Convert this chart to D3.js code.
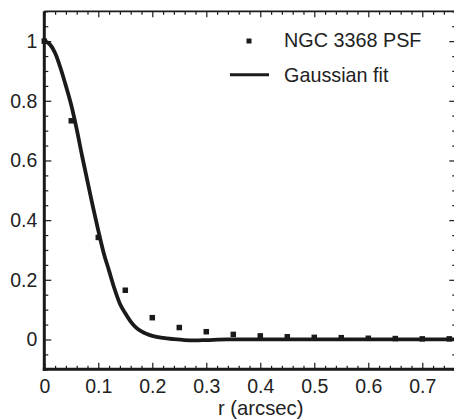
<!DOCTYPE html>
<html>
<head>
<meta charset="utf-8">
<script src="https://cdn.jsdelivr.net/npm/d3@7"></script>
<style>
  html, body { margin: 0; padding: 0; background: #ffffff; }
  svg { display: block; }
  text { font-family: "Liberation Sans", Arial, Helvetica, sans-serif; fill: #222; }
</style>
</head>
<body>
<svg id="chart" width="454" height="420"></svg>
<script>
// ---- data ----
const psfR = [0, 0.05, 0.10, 0.15, 0.20, 0.25, 0.30, 0.35, 0.40, 0.45, 0.50, 0.55, 0.60, 0.65, 0.70, 0.75];
const psfV = [1.0, 0.733, 0.342, 0.165, 0.073, 0.040, 0.026, 0.017, 0.012, 0.009, 0.007, 0.006, 0.004, 0.003, 0.002, 0.002];

const fitR = [0, 0.01, 0.02, 0.03, 0.04, 0.05, 0.06, 0.07, 0.08, 0.09, 0.10, 0.11, 0.12, 0.13, 0.14, 0.15, 0.16, 0.17, 0.18, 0.19, 0.20, 0.22, 0.24, 0.26, 0.28, 0.30, 0.34, 0.40, 0.50, 0.60, 0.70, 0.763];
const fitV = [1.0, 0.99, 0.96, 0.91, 0.85, 0.785, 0.705, 0.615, 0.53, 0.445, 0.365, 0.29, 0.23, 0.17, 0.12, 0.088, 0.06, 0.04, 0.027, 0.018, 0.012, 0.005, 0.001, -0.002, -0.003, -0.002, 0, 0, 0, 0, 0, 0];

const xTicks = [0, 0.1, 0.2, 0.3, 0.4, 0.5, 0.6, 0.7];
const xTickLabels = ["0", "0.1", "0.2", "0.3", "0.4", "0.5", "0.6", "0.7"];
const yTicks = [0, 0.2, 0.4, 0.6, 0.8, 1];
const yTickLabels = ["0", "0.2", "0.4", "0.6", "0.8", "1"];
const xMinor = d3.range(0, 39).map(i => i * 0.02).filter(v => Math.abs(v * 10 - Math.round(v * 10)) > 1e-6);
const yMinor = d3.range(-2, 23).map(i => i * 0.05).filter(v => Math.abs(v * 5 - Math.round(v * 5)) > 1e-6);

const legendLabels = ["NGC 3368 PSF", "Gaussian fit"];
const xLabel = "r (arcsec)";

// ---- layout ----
const svg = d3.select("#chart");
const xMax = 0.763;
const x = d3.scaleLinear().domain([0, xMax]).range([44.3, 456.3]);
const y = d3.scaleLinear().domain([-0.1, 1.1]).range([369.3, 11.3]);
const ink = "#1a1a1a";

const g = svg.append("g");

function styleAxis(sel) {
  sel.select(".domain").remove();
  sel.selectAll(".tick line").attr("stroke", ink).attr("stroke-width", 1.2);
  sel.selectAll(".tick text").style("font-size", "19.5px").attr("fill", "#222");
}

// bottom axis
g.append("g").attr("transform", `translate(0,${y(-0.1)})`)
  .call(d3.axisBottom(x).tickValues(xMinor).tickSize(-3.5).tickFormat(""))
  .call(styleAxis);
g.append("g").attr("transform", `translate(0,${y(-0.1)})`)
  .call(d3.axisBottom(x).tickValues(xTicks).tickSize(-6.5).tickPadding(10)
        .tickFormat((d, i) => xTickLabels[i]))
  .call(styleAxis);

// top axis
g.append("g").attr("transform", `translate(0,${y(1.1)})`)
  .call(d3.axisTop(x).tickValues(xMinor).tickSize(-3.5).tickFormat(""))
  .call(styleAxis);
g.append("g").attr("transform", `translate(0,${y(1.1)})`)
  .call(d3.axisTop(x).tickValues(xTicks).tickSize(-6).tickFormat(""))
  .call(styleAxis);

// left axis
g.append("g").attr("transform", `translate(${x(0)},0)`)
  .call(d3.axisLeft(y).tickValues(yMinor).tickSize(-4).tickFormat(""))
  .call(styleAxis);
g.append("g").attr("transform", `translate(${x(0)},0)`)
  .call(d3.axisLeft(y).tickValues(yTicks).tickSize(-7).tickPadding(7)
        .tickFormat((d, i) => yTickLabels[i]))
  .call(styleAxis);

// right axis
g.append("g").attr("transform", `translate(${x(xMax)},0)`)
  .call(d3.axisRight(y).tickValues(yMinor).tickSize(-4).tickFormat(""))
  .call(styleAxis);
g.append("g").attr("transform", `translate(${x(xMax)},0)`)
  .call(d3.axisRight(y).tickValues(yTicks).tickSize(-7).tickFormat(""))
  .call(styleAxis);

// spines
g.append("line").attr("x1", x(0)).attr("x2", x(xMax)).attr("y1", y(1.1)).attr("y2", y(1.1))
  .attr("stroke", ink).attr("stroke-width", 1.8);
g.append("line").attr("x1", x(xMax)).attr("x2", x(xMax)).attr("y1", y(1.1)).attr("y2", y(-0.1))
  .attr("stroke", ink).attr("stroke-width", 1.8);
g.append("line").attr("x1", x(0) - 1.5).attr("x2", x(xMax)).attr("y1", y(-0.1)).attr("y2", y(-0.1))
  .attr("stroke", ink).attr("stroke-width", 3);
g.append("line").attr("x1", x(0)).attr("x2", x(0)).attr("y1", y(1.1)).attr("y2", y(-0.1) + 1.5)
  .attr("stroke", ink).attr("stroke-width", 3);

// fit line
const fitData = fitR.map((r, i) => [r, fitV[i]]);
const line = d3.line().x(d => x(d[0])).y(d => y(d[1])).curve(d3.curveMonotoneX);
g.append("path").datum(fitData).attr("d", line)
  .attr("fill", "none").attr("stroke", ink).attr("stroke-width", 3.8)
  .attr("stroke-linejoin", "round");

// PSF points
const sq = 5.5;
g.selectAll("rect.psf").data(psfR.map((r, i) => [r, psfV[i]])).enter()
  .append("rect").attr("class", "psf")
  .attr("x", d => x(d[0]) - sq / 2).attr("y", d => y(d[1]) - sq / 2)
  .attr("width", sq).attr("height", sq).attr("fill", ink);

// legend
const lg = svg.append("g");
lg.append("rect").attr("x", 249 - 2.5).attr("y", 41 - 2.5).attr("width", 5).attr("height", 5).attr("fill", ink);
lg.append("text").attr("x", 284).attr("y", 46.7).style("font-size", "19.8px").text(legendLabels[0]);
lg.append("line").attr("x1", 230).attr("x2", 269).attr("y1", 74.7).attr("y2", 74.7)
  .attr("stroke", ink).attr("stroke-width", 3);
lg.append("text").attr("x", 284).attr("y", 81.5).style("font-size", "19.8px").text(legendLabels[1]);

// x label
svg.append("text").attr("x", 260.7).attr("y", 414.5).attr("text-anchor", "middle")
  .style("font-size", "20.3px").text(xLabel);
</script>
</body>
</html>
